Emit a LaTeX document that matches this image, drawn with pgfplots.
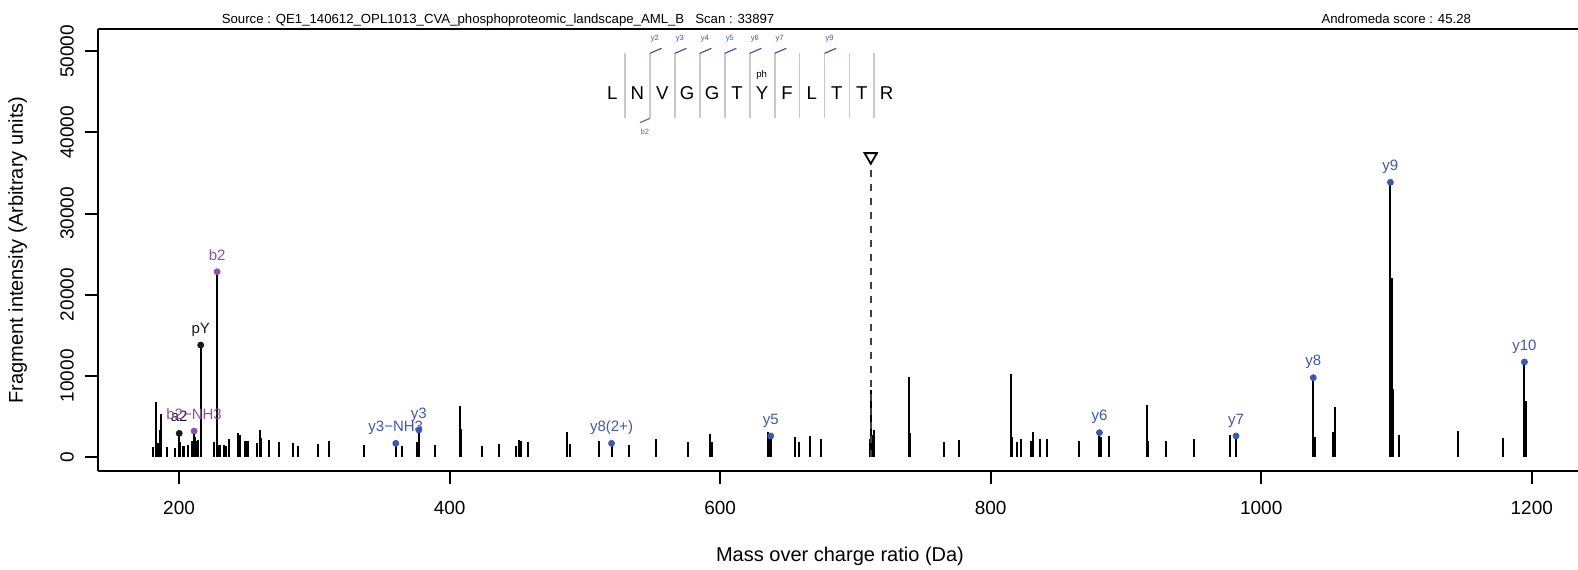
\documentclass[border=0pt]{standalone}
\usepackage{pgfplots}
\usepackage{pgfplotstable}
\usepackage{fontspec}
\setmainfont{Liberation Sans}
\pgfplotsset{compat=1.18}
\definecolor{ionblue}{RGB}{61,89,171}
\definecolor{ionpurple}{RGB}{140,82,166}
\definecolor{sepgray}{RGB}{200,200,200}

\pgfplotstableread{
mz int
180.5 1260
182.7 6730
184.4 1680
185.9 3300
186.8 5290
190.8 1180
196.7 1100
200.1 2900
200.8 1800
202.7 1400
203.6 1400
206.8 1450
209.3 2000
211.1 3190
211.6 2500
212.5 1900
214.2 2100
216.0 13790
225.8 1800
228.1 22830
229.0 1500
230.3 1500
233.4 1500
234.6 1400
236.9 2200
243.5 3000
245.0 2700
248.7 1900
250.0 1900
251.2 1900
257.6 1700
259.6 3300
260.6 2300
266.7 2100
273.6 1800
284.4 1700
287.7 1300
302.9 1550
310.8 1900
336.9 1470
360.2 1670
365.0 1350
376.1 1800
377.2 3320
389.0 1470
407.9 6270
408.3 3400
423.7 1350
436.3 1650
449.1 1320
451.5 2140
453.0 1930
458.0 1800
487.0 3030
489.0 1650
510.7 1970
519.7 1670
532.6 1470
552.8 2200
576.2 1800
592.5 2880
593.8 1830
635.2 3100
636.2 2500
637.4 2580
655.3 2420
658.3 1820
666.4 2560
674.3 2150
710.8 2200
711.3 8250
712.2 2700
713.5 3300
739.4 9810
740.4 2900
765.7 1830
776.6 2050
814.8 10220
815.8 2500
819.7 1850
822.7 2150
829.6 1900
831.5 3020
836.5 2200
841.9 2150
865.4 1950
880.4 2990
881.2 2500
887.5 2540
915.4 6400
916.4 1950
929.3 1970
950.4 2260
977.0 2750
981.4 2580
1038.5 9770
1039.4 2500
1053.3 3040
1054.6 6110
1095.5 33850
1096.4 22000
1097.2 8370
1101.5 2740
1145.4 3160
1178.6 2340
1194.6 11700
1195.6 6890
}\peaks

\pgfplotstableread{
mz int lab
200.1 2900 a2
216.0 13790 pY
}\blackions

\pgfplotstableread{
mz int lab
211.1 3190 b2−NH3
228.1 22830 b2
}\purpleions

\pgfplotstableread{
mz int lab
360.2 1670 y3−NH3
377.2 3320 y3
519.7 1670 y8(2+)
637.4 2580 y5
880.4 2990 y6
981.4 2580 y7
1038.5 9770 y8
1095.5 33850 y9
1194.6 11700 y10
}\blueions

\begin{document}
\begin{tikzpicture}
\begin{axis}[
  scale only axis, width=740.2pt, height=220.9pt,
  xmin=139.75, xmax=1234.2, ymin=-1738, ymax=52725,
  axis x line=box, axis y line=left,
  axis line style={-, line width=1pt},
  every outer x axis line/.append style={-},
  every outer y axis line/.append style={-},
  tick align=outside, xtick pos=left, ytick pos=left,
  major tick length=6.35pt, tick style={line width=1pt, black},
  xtick={200,400,...,1200}, ytick={0,10000,...,50000},
  scaled y ticks=false, scaled x ticks=false,
  /pgf/number format/1000 sep={}, /pgf/number format/assume math mode=true,
  ticklabel style={font=\fontsize{9.5}{11}\selectfont},
  xticklabel style={yshift=-5pt},
  yticklabel style={xshift=-2pt, rotate=90, anchor=south},
  clip=false,
]
\coordinate (SW) at (rel axis cs:0,0);
\coordinate (NE) at (rel axis cs:1,1);
\coordinate (NW) at (rel axis cs:0,1);
\coordinate (LM) at (rel axis cs:0,0.5);
\coordinate (BM) at (rel axis cs:0.5,0);

% stems
\addplot[ycomb, black, line width=1pt, no marks] table {\peaks};

% precursor
\addplot[color={rgb,255:red,64;green,64;blue,64}, line width=0.8pt, dash pattern=on 3.5pt off 3.5pt] coordinates {(711.35,0) (711.35,37010)};
\addplot[only marks, mark=triangle*, mark size=3.55pt, mark options={rotate=180, fill=white, draw=black, line width=0.9pt}] coordinates {(711.35,37010)};

% labelled ions
\addplot[only marks, mark=*, mark size=1.5pt, color=black!90, nodes near coords, point meta=explicit symbolic,
  every node near coord/.append style={anchor=base, yshift=5.85pt, inner sep=0, font=\fontsize{7.5}{9}\selectfont, text=black!90}]
  table[x=mz, y=int, meta=lab] {\blackions};
\addplot[only marks, mark=*, mark size=1.5pt, color=ionpurple, nodes near coords, point meta=explicit symbolic,
  every node near coord/.append style={anchor=base, yshift=5.85pt, inner sep=0, font=\fontsize{7.5}{9}\selectfont, text=ionpurple}]
  table[x=mz, y=int, meta=lab] {\purpleions};
\addplot[only marks, mark=*, mark size=1.5pt, color=ionblue, nodes near coords, point meta=explicit symbolic,
  every node near coord/.append style={anchor=base, yshift=5.85pt, inner sep=0, font=\fontsize{7.5}{9}\selectfont, text=ionblue}]
  table[x=mz, y=int, meta=lab] {\blueions};

% peptide diagram
\pgfplotsinvokeforeach{529.7,548.1,566.5,585.0,603.4,621.9,640.3,658.7,677.2,695.6,714.0}{
  \draw[sepgray, line width=0.9pt] (axis cs:#1,41740) -- (axis cs:#1,49750);
}
\begin{scope}[every node/.style={inner sep=0, anchor=center, font=\fontsize{9.3}{10}\selectfont}]
\node at (axis cs:520.3,44820) {L};
\node at (axis cs:538.7,44820) {N};
\node at (axis cs:557.2,44820) {V};
\node at (axis cs:575.6,44820) {G};
\node at (axis cs:594.1,44820) {G};
\node at (axis cs:612.5,44820) {T};
\node at (axis cs:630.9,44820) {Y};
\node at (axis cs:649.4,44820) {F};
\node at (axis cs:667.8,44820) {L};
\node at (axis cs:686.3,44820) {T};
\node at (axis cs:704.7,44820) {T};
\node at (axis cs:723.1,44820) {R};
\end{scope}
\node[inner sep=0, font=\fontsize{4.8}{5}\selectfont] at (axis cs:630.7,47080) {ph};
\begin{scope}[every node/.style={inner sep=0, anchor=center, font=\fontsize{3.8}{4}\selectfont, text=ionblue}]
\draw[ionblue, line width=0.6pt] (axis cs:548.1,49750) -- (axis cs:556.7,50370);
\node at (axis cs:551.8,51520) {y2};
\draw[ionblue, line width=0.6pt] (axis cs:566.5,49750) -- (axis cs:575.1,50370);
\node at (axis cs:570.2,51520) {y3};
\draw[ionblue, line width=0.6pt] (axis cs:585.0,49750) -- (axis cs:593.6,50370);
\node at (axis cs:588.7,51520) {y4};
\draw[ionblue, line width=0.6pt] (axis cs:603.4,49750) -- (axis cs:612.0,50370);
\node at (axis cs:607.1,51520) {y5};
\draw[ionblue, line width=0.6pt] (axis cs:621.9,49750) -- (axis cs:630.5,50370);
\node at (axis cs:625.6,51520) {y6};
\draw[ionblue, line width=0.6pt] (axis cs:640.3,49750) -- (axis cs:648.9,50370);
\node at (axis cs:644.0,51520) {y7};
\draw[ionblue, line width=0.6pt] (axis cs:677.2,49750) -- (axis cs:685.8,50370);
\node at (axis cs:680.9,51520) {y9};
\end{scope}
\draw[ionpurple, line width=0.6pt] (axis cs:548.1,41740) -- (axis cs:540.7,41200);
\node[inner sep=0, font=\fontsize{3.8}{4}\selectfont, text=ionpurple] at (axis cs:544.4,40090) {b2};
\end{axis}

\node[anchor=base west, inner sep=0, font=\fontsize{6.6}{8}\selectfont] at ([xshift=61.9pt, yshift=2.75pt]NW) {Source : QE1\_140612\_OPL1013\_CVA\_phosphoproteomic\_landscape\_AML\_B\ \ \ Scan : 33897};
\node[anchor=base east, inner sep=0, font=\fontsize{6.6}{8}\selectfont] at ([xshift=-53.3pt, yshift=2.75pt]NE) {Andromeda score : 45.28};
\node[anchor=base, inner sep=0, font=\fontsize{10}{12}\selectfont] at ([xshift=1.1pt, yshift=-45pt]BM) {Mass over charge ratio (Da)};
\node[rotate=90, anchor=base, inner sep=0, font=\fontsize{10}{12}\selectfont] at ([xshift=-37.3pt]LM) {Fragment intensity (Arbitrary units)};

\pgfresetboundingbox
\path[use as bounding box] ([xshift=-48.8pt, yshift=-49pt]SW) rectangle ([yshift=14.6pt]NE);
\end{tikzpicture}
\end{document}
